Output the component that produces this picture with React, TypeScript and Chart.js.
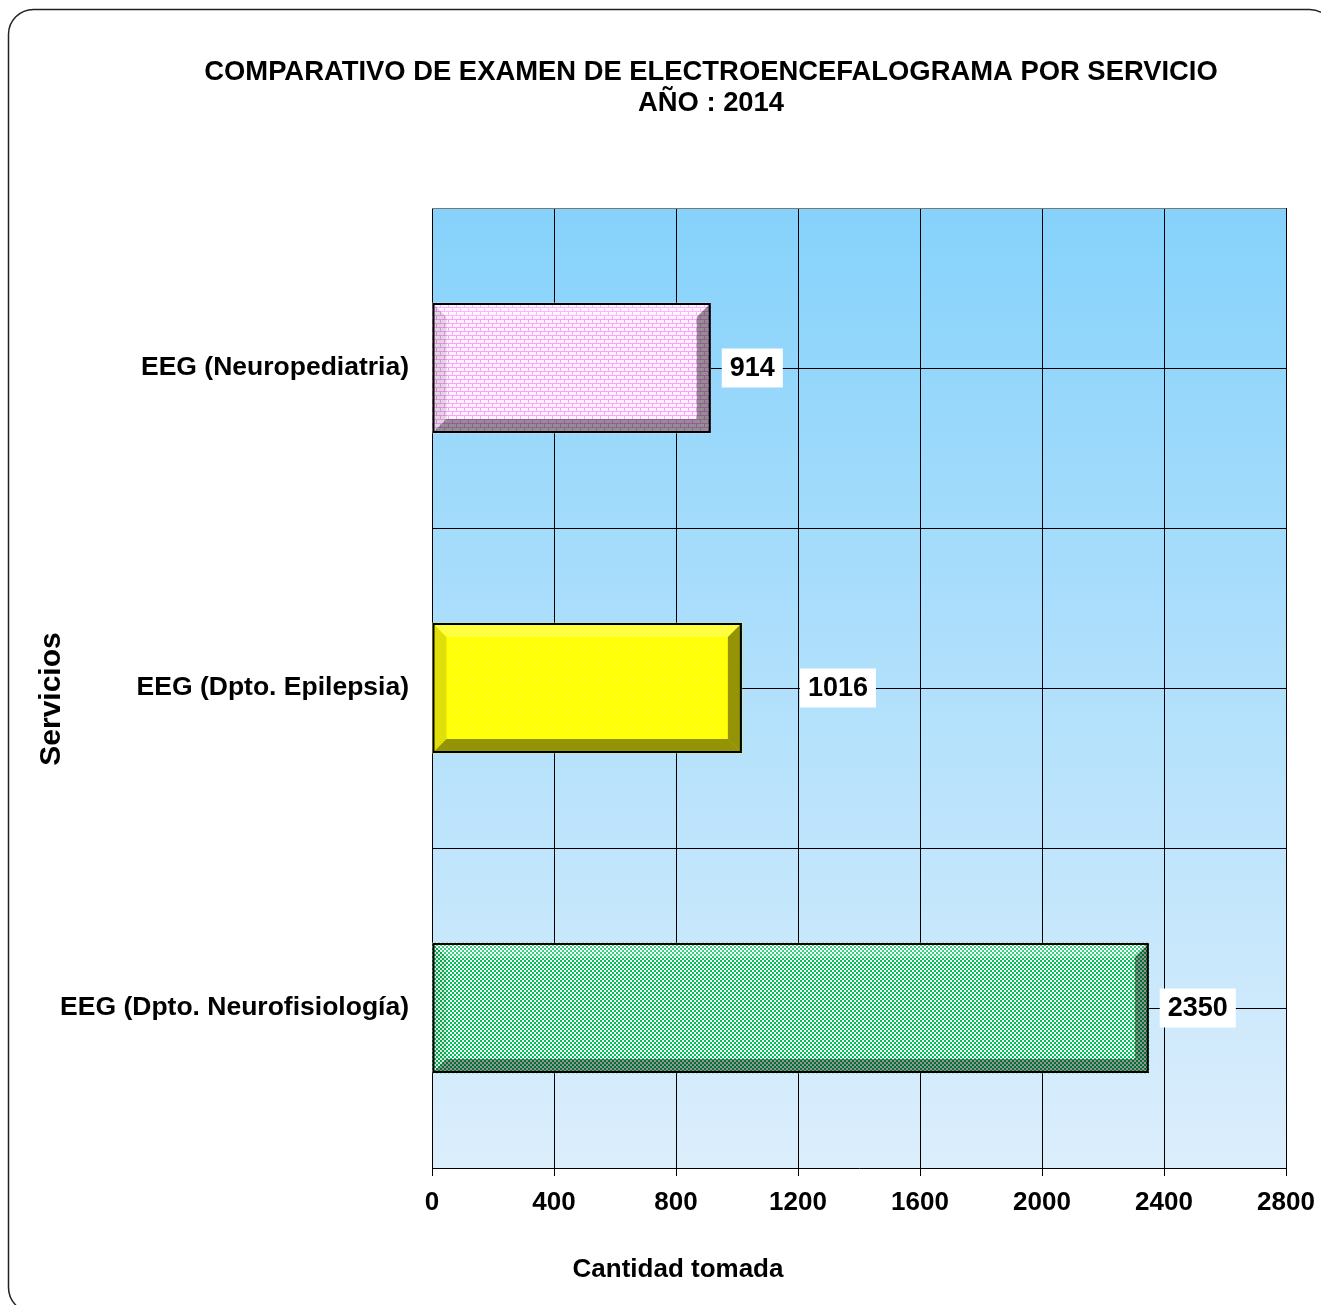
import React, { useEffect, useRef } from "react";
import { Chart, registerables } from "chart.js";

Chart.register(...registerables);

const titleLines = [
  "COMPARATIVO DE EXAMEN DE ELECTROENCEFALOGRAMA POR SERVICIO",
  "AÑO : 2014",
];
const categories = [
  "EEG (Neuropediatria)",
  "EEG (Dpto. Epilepsia)",
  "EEG (Dpto. Neurofisiología)",
];
const values = [914, 1016, 2350];
const xMin = 0;
const xMax = 2800;
const xStep = 400;
const xAxisTitle = "Cantidad tomada";
const yAxisTitle = "Servicios";

const FONT = "'Liberation Sans', Arial, Helvetica, sans-serif";
const W = 1321;
const H = 1305;

function makeBrick(): CanvasPattern | string {
  const c = document.createElement("canvas");
  c.width = 8;
  c.height = 8;
  const g = c.getContext("2d");
  if (!g) return "#FFD8FF";
  g.fillStyle = "#FFF4FF";
  g.fillRect(0, 0, 8, 8);
  g.fillStyle = "#FFA0FF";
  g.fillRect(0, 3, 8, 1);
  g.fillRect(0, 7, 8, 1);
  g.fillRect(0, 0, 1, 3);
  g.fillRect(4, 4, 1, 3);
  return g.createPattern(c, "repeat") || "#FFD8FF";
}

function makeChecker(): CanvasPattern | string {
  const c = document.createElement("canvas");
  c.width = 4;
  c.height = 4;
  const g = c.getContext("2d");
  if (!g) return "#66DD99";
  g.fillStyle = "#FFFFFF";
  g.fillRect(0, 0, 4, 4);
  g.fillStyle = "#00C458";
  g.fillRect(0, 0, 2, 2);
  g.fillRect(2, 2, 2, 2);
  return g.createPattern(c, "repeat") || "#66DD99";
}

function makeYellow(): CanvasPattern | string {
  const c = document.createElement("canvas");
  c.width = 4;
  c.height = 4;
  const g = c.getContext("2d");
  if (!g) return "#FFFF00";
  g.fillStyle = "#FFFF00";
  g.fillRect(0, 0, 4, 4);
  g.fillStyle = "#FFFF50";
  g.fillRect(0, 0, 1, 1);
  g.fillRect(2, 2, 1, 1);
  return g.createPattern(c, "repeat") || "#FFFF00";
}

const labelGaps = [11, 58, 11];

const decorPlugin = {
  id: "decor",
  beforeDraw(chart: any) {
    const { ctx, chartArea: a } = chart;
    ctx.save();
    ctx.fillStyle = "#FFFFFF";
    ctx.fillRect(0, 0, chart.width, chart.height);
    const g = ctx.createLinearGradient(0, a.top, 0, a.bottom);
    g.addColorStop(0, "#86D2FB");
    g.addColorStop(1, "#DCEEFC");
    ctx.fillStyle = g;
    ctx.fillRect(a.left, a.top, a.right - a.left, a.bottom - a.top);

    // outer rounded frame
    ctx.strokeStyle = "#222";
    ctx.lineWidth = 1.5;
    ctx.beginPath();
    ctx.roundRect(8.5, 9.5, 1326, 1303, 25);
    ctx.stroke();

    // title
    ctx.fillStyle = "#000";
    ctx.textAlign = "center";
    ctx.textBaseline = "middle";
    ctx.font = `bold 27.4px ${FONT}`;
    ctx.fillText(titleLines[0], 711, 72);
    ctx.fillText(titleLines[1], 711, 103);

    // axis titles
    ctx.font = `bold 26px ${FONT}`;
    ctx.fillText(xAxisTitle, 678, 1270);
    ctx.save();
    ctx.translate(52, 699);
    ctx.rotate(-Math.PI / 2);
    ctx.font = `bold 30px ${FONT}`;
    ctx.fillText(yAxisTitle, 0, 0);
    ctx.restore();
    ctx.restore();
  },
  beforeDatasetsDraw(chart: any) {
    const { ctx, chartArea: a } = chart;
    const ys = chart.scales.y;
    const n = categories.length;
    const half =
      n > 1 ? (ys.getPixelForValue(1) - ys.getPixelForValue(0)) / 2 : (a.bottom - a.top) / 2;
    ctx.save();
    ctx.strokeStyle = "#000";
    ctx.lineWidth = 1;
    const pos: number[] = [];
    for (let i = 0; i < n; i++) {
      const c = ys.getPixelForValue(i);
      pos.push(c);
      if (i > 0) pos.push(c - half);
    }
    pos.forEach((p) => {
      const yy = Math.round(p) + 0.5;
      ctx.beginPath();
      ctx.moveTo(a.left, yy);
      ctx.lineTo(a.right, yy);
      ctx.stroke();
    });
    // top border
    ctx.strokeStyle = "#777";
    ctx.beginPath();
    ctx.moveTo(a.left, Math.round(a.top) + 0.5);
    ctx.lineTo(a.right, Math.round(a.top) + 0.5);
    ctx.stroke();
    ctx.restore();
  },
  afterDatasetsDraw(chart: any) {
    const { ctx } = chart;
    const meta = chart.getDatasetMeta(0);
    const b = 14;
    ctx.save();
    meta.data.forEach((el: any, i: number) => {
      const L = Math.min(el.base, el.x);
      const R = Math.max(el.base, el.x);
      const T = el.y - el.height / 2;
      const B = el.y + el.height / 2;
      const poly = (pts: number[][], color: string) => {
        ctx.beginPath();
        ctx.moveTo(pts[0][0], pts[0][1]);
        for (let k = 1; k < pts.length; k++) ctx.lineTo(pts[k][0], pts[k][1]);
        ctx.closePath();
        ctx.fillStyle = color;
        ctx.fill();
      };
      poly([[L, T], [R, T], [R - b, T + b], [L + b, T + b]], "rgba(255,255,255,0.22)");
      poly([[L, T], [L + b, T + b], [L + b, B - b], [L, B]], "rgba(0,0,0,0.12)");
      poly([[R, T], [R, B], [R - b, B - b], [R - b, T + b]], "rgba(0,0,0,0.42)");
      poly([[L, B], [L + b, B - b], [R - b, B - b], [R, B]], "rgba(0,0,0,0.42)");
      ctx.strokeStyle = "#000";
      ctx.lineWidth = 2;
      ctx.strokeRect(L + 1, T + 1, R - L - 2, B - T - 2);

      // data label
      const txt = String(values[i]);
      ctx.font = `bold 27px ${FONT}`;
      const tw = ctx.measureText(txt).width;
      const bx = R + labelGaps[i];
      const bw = tw + 16;
      const bh = 39;
      ctx.fillStyle = "#FFFFFF";
      ctx.fillRect(bx, el.y - bh / 2, bw, bh);
      ctx.fillStyle = "#000";
      ctx.textAlign = "center";
      ctx.textBaseline = "middle";
      ctx.fillText(txt, bx + bw / 2, el.y + 1);
    });
    ctx.restore();
  },
};

export default function App() {
  const ref = useRef<HTMLCanvasElement | null>(null);
  useEffect(() => {
    const canvas = ref.current;
    if (!canvas) return;
    const chart = new Chart(canvas, {
      type: "bar",
      data: {
        labels: categories,
        datasets: [
          {
            data: values,
            backgroundColor: [makeBrick(), makeYellow(), makeChecker()] as any,
            borderColor: "#000",
            borderWidth: 0,
            barThickness: 130,
          },
        ],
      },
      options: {
        indexAxis: "y",
        responsive: false,
        animation: false,
        devicePixelRatio: 1,
        layout: { padding: { top: 208, right: 35, left: 0, bottom: 0 } },
        plugins: {
          legend: { display: false },
          title: { display: false },
          tooltip: { enabled: false },
        },
        scales: {
          x: {
            min: xMin,
            max: xMax,
            afterFit: (s: any) => {
              s.height = 137;
              s.paddingLeft = 0;
              s.paddingRight = 0;
            },
            ticks: {
              stepSize: xStep,
              color: "#000",
              font: { family: FONT, size: 26, weight: "bold" },
              padding: 11,
              maxRotation: 0,
              callback: (v: any) => String(v),
            },
            grid: { color: "#000", lineWidth: 1, tickLength: 8, drawTicks: true },
            border: { display: true, color: "#000" },
          },
          y: {
            afterFit: (s: any) => {
              s.width = 432;
              s.paddingTop = 0;
              s.paddingBottom = 0;
            },
            ticks: {
              color: "#000",
              font: { family: FONT, size: 26.5, weight: "bold" },
              padding: 23,
            },
            grid: { display: false, drawTicks: false },
            border: { display: true, color: "#000" },
          },
        },
      },
      plugins: [decorPlugin],
    } as any);
    return () => chart.destroy();
  }, []);
  return (
    <div style={{ position: "absolute", left: 0, top: 0, width: W, height: H }}>
      <canvas ref={ref} width={W} height={H} style={{ width: W, height: H, display: "block" }} />
    </div>
  );
}
